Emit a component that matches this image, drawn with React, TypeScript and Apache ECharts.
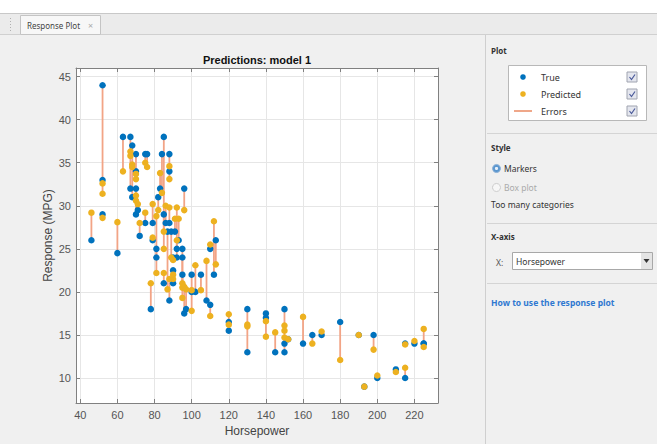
import React, { useEffect, useRef } from 'react';
import * as echarts from 'echarts';

const horsepower = [
  46, 52, 52, 52, 60, 63, 67, 67, 68, 68, 70, 70, 70, 70, 71, 72, 75, 76, 75, 78,
  79, 79, 81, 81, 82, 83, 84, 85, 85, 85, 86, 87, 88, 88, 88, 88, 89, 90, 90, 90,
  91, 92, 92, 93, 95, 95, 95, 96, 96, 97, 100, 100, 102, 105, 108, 110, 110, 112, 113, 120,
  120, 130, 130, 140, 140, 145, 150, 150, 150, 152, 160, 165, 170, 180, 190, 193, 198, 200, 210, 215,
  215, 220, 225, 225,
];
const trueResponse = [
  26, 44, 33, 29, 24.5, 38, 38, 32, 37, 31, 36, 34, 32, 29, 29.5, 26.5, 36, 36, 28, 18,
  28, 26, 25, 24, 31, 32, 36, 38, 29, 21, 28, 27, 36, 34, 19, 28, 27, 22.5, 21, 24,
  27, 25, 24, 26, 25, 22, 24, 32, 17.5, 18, 22, 20, 20, 22, 19, 18.5, 25, 22, 26, 16.5,
  15.5, 18, 13, 17.5, 17, 13, 18, 13, 14, 14.5, 14, 15, 15, 16.5, 15, 9, 15, 10, 11, 10,
  14, 14, 14, 14,
];
const predictedResponse = [
  29.2, 31.4, 32.6, 28.6, 28.1, 34, 36.3, 35.8, 34.8, 34.5, 33.7, 33.1, 31.2, 30.6, 30.2, 28, 35, 34.5, 29.2, 21,
  30.2, 26.3, 22.2, 28.8, 29.5, 33.8, 31.5, 25, 27, 22.2, 30, 20.3, 34.6, 33.1, 21.5, 29.8, 24, 21.5, 22, 23.7,
  28.5, 29.8, 26, 28.5, 20.5, 19.3, 21, 29.5, 20.6, 20.3, 17.8, 20.2, 23.1, 20.2, 23.6, 17.2, 25.5, 28.2, 23.2, 17.4,
  16.2, 16, 16.2, 16.6, 14.8, 15.3, 16.1, 15.5, 14.7, 14.5, 17.1, 14, 15.4, 12.1, 15, 9, 13.3, 10.3, 10.7, 11.2,
  13.9, 14.3, 15.7, 13.6,
];

const X_MIN = 37.7;
const X_MAX = 232.7;
const Y_MIN = 7.1;
const Y_MAX = 46;

const PANEL_FONT = '"Noto Sans", "DejaVu Sans", sans-serif';
const PLOT_FONT = '"Liberation Sans", Arial, sans-serif';

function checkbox(x: number, y: number) {
  return [
    { type: 'rect', shape: { x, y, width: 10, height: 10 }, style: { fill: '#e4e6ee', stroke: '#a0a4b0', lineWidth: 1 } },
    {
      type: 'polyline',
      shape: { points: [[x + 2.5, y + 5], [x + 4.5, y + 7.5], [x + 8, y + 2.5]] },
      style: { stroke: '#4a5a9a', lineWidth: 1.2, fill: 'none' },
    },
  ];
}

function txt(x: number, y: number, text: string, opts: any = {}) {
  return {
    type: 'text',
    x,
    y,
    style: {
      text,
      fill: opts.fill || '#333',
      font: `${opts.bold ? 'bold ' : ''}${opts.size || 9}px ${opts.family || PANEL_FONT}`,
      align: opts.align || 'left',
      verticalAlign: 'middle',
    },
  };
}

export default function App() {
  const ref = useRef<HTMLDivElement>(null);
  useEffect(() => {
    const chart = echarts.init(ref.current!, null, { renderer: 'svg' });
    const axisColor = '#808080';
    const errorData = horsepower.map((h, i) => [h, trueResponse[i], predictedResponse[i]]);
    const graphics: any[] = [
      { type: 'rect', z: -10, shape: { x: 0, y: 0, width: 657, height: 13 }, style: { fill: '#ffffff' } },
      { type: 'rect', z: -10, shape: { x: 0, y: 13, width: 657, height: 22 }, style: { fill: '#ebebeb' } },
      { type: 'line', shape: { x1: 0, y1: 13.5, x2: 657, y2: 13.5 }, style: { stroke: '#c8c8c8', lineWidth: 1 } },
      { type: 'line', shape: { x1: 0, y1: 34.5, x2: 657, y2: 34.5 }, style: { stroke: '#d0d0d0', lineWidth: 1 } },
      { type: 'rect', shape: { x: 20.5, y: 15.5, width: 80, height: 19 }, style: { fill: '#f7f7f7', stroke: '#c4c4c4', lineWidth: 1 } },
      txt(27, 25, 'Response Plot', { size: 8, fill: '#444' }),
      txt(88, 25, '×', { size: 9, fill: '#aaa' }),
      { type: 'line', shape: { x1: 10.5, y1: 18, x2: 10.5, y2: 31 }, style: { stroke: '#b0b0b0', lineWidth: 1, lineDash: [1, 2] } },
      // right panel
      { type: 'line', shape: { x1: 485.5, y1: 35, x2: 485.5, y2: 444 }, style: { stroke: '#cfcfcf', lineWidth: 1 } },
      txt(491, 50, 'Plot', { bold: true, size: 8 }),
      { type: 'rect', shape: { x: 508.5, y: 65.5, width: 138, height: 55 }, style: { fill: '#ffffff', stroke: '#b8b8b8', lineWidth: 1 } },
      { type: 'circle', shape: { cx: 523, cy: 77, r: 2.8 }, style: { fill: '#0072BD' } },
      txt(541, 77, 'True'),
      { type: 'circle', shape: { cx: 523, cy: 94, r: 2.8 }, style: { fill: '#EDB120' } },
      txt(541, 94, 'Predicted'),
      { type: 'line', shape: { x1: 514, y1: 111, x2: 532, y2: 111 }, style: { stroke: '#ea8a62', lineWidth: 1.5 } },
      txt(541, 111, 'Errors'),
      ...checkbox(627, 72),
      ...checkbox(627, 89),
      ...checkbox(627, 106),
      { type: 'line', shape: { x1: 487, y1: 133.5, x2: 657, y2: 133.5 }, style: { stroke: '#d4d4d4', lineWidth: 1 } },
      txt(491, 147, 'Style', { bold: true, size: 8 }),
      { type: 'circle', shape: { cx: 496.5, cy: 168.5, r: 4 }, style: { fill: '#5b97cf', stroke: '#8fb2d8', lineWidth: 1 } },
      { type: 'circle', shape: { cx: 496.5, cy: 168.5, r: 1.6 }, style: { fill: '#e8f0fa' } },
      txt(504, 168, 'Markers', { size: 8.5 }),
      { type: 'circle', shape: { cx: 496.5, cy: 187.5, r: 4 }, style: { fill: '#f7f7f7', stroke: '#cccccc', lineWidth: 1 } },
      txt(504, 187, 'Box plot', { size: 8.5, fill: '#aaaaaa' }),
      txt(491, 204, 'Too many categories', { size: 8.5 }),
      { type: 'line', shape: { x1: 487, y1: 223.5, x2: 657, y2: 223.5 }, style: { stroke: '#d4d4d4', lineWidth: 1 } },
      txt(491, 236, 'X-axis', { bold: true, size: 8 }),
      txt(496, 262, 'X:', { size: 8.5, fill: '#555' }),
      { type: 'rect', shape: { x: 512.5, y: 252.5, width: 140, height: 17 }, style: { fill: '#ffffff', stroke: '#a8a8a8', lineWidth: 1 } },
      txt(516, 261, 'Horsepower', { size: 8.5, fill: '#333' }),
      { type: 'rect', shape: { x: 641, y: 253, width: 11, height: 16 }, style: { fill: '#e4e4e4' } },
      { type: 'polygon', shape: { points: [[643.5, 259], [649.5, 259], [646.5, 263]] }, style: { fill: '#333' } },
      { type: 'line', shape: { x1: 487, y1: 283.5, x2: 657, y2: 283.5 }, style: { stroke: '#d4d4d4', lineWidth: 1 } },
      txt(491, 302, 'How to use the response plot', { size: 8.5, bold: true, fill: '#2f78d0' }),
      // plot title
      txt(257, 60, 'Predictions: model 1', { size: 11, bold: true, fill: '#111', align: 'center', family: PLOT_FONT }),
    ];

    const option: any = {
      animation: false,
      backgroundColor: '#f0f0f0',
      grid: {
        left: 76,
        top: 68,
        width: 362,
        height: 335,
        show: true,
        backgroundColor: '#ffffff',
        borderWidth: 0,
      },
      xAxis: [
        {
          type: 'value',
          position: 'bottom',
          min: X_MIN,
          max: X_MAX,
          splitNumber: 10,
          minInterval: 20,
          maxInterval: 20,
          axisLine: { show: true, onZero: false, lineStyle: { color: axisColor } },
          axisTick: { show: true, inside: true, length: 4, lineStyle: { color: axisColor } },
          axisLabel: {
            color: '#555',
            fontSize: 11,
            fontFamily: PLOT_FONT,
            margin: 6,
            formatter: (v: number) => (Math.abs(v % 20) < 1e-6 ? String(Math.round(v)) : ''),
          },
          splitLine: { show: true, lineStyle: { color: '#e6e6e6' } },
          name: 'Horsepower',
          nameLocation: 'middle',
          nameGap: 22,
          nameMoveOverlap: false,
          nameTextStyle: { color: '#444', fontSize: 12, fontFamily: PLOT_FONT },
        },
        {
          type: 'value',
          position: 'top',
          min: X_MIN,
          max: X_MAX,
          splitNumber: 10,
          minInterval: 20,
          maxInterval: 20,
          axisLine: { show: true, onZero: false, lineStyle: { color: axisColor } },
          axisTick: { show: true, inside: true, length: 4, lineStyle: { color: axisColor } },
          axisLabel: { show: false },
          splitLine: { show: false },
        },
      ],
      yAxis: [
        {
          type: 'value',
          position: 'left',
          min: Y_MIN,
          max: Y_MAX,
          splitNumber: 8,
          minInterval: 5,
          maxInterval: 5,
          axisLine: { show: true, onZero: false, lineStyle: { color: axisColor } },
          axisTick: { show: true, inside: true, length: 4, lineStyle: { color: axisColor } },
          axisLabel: {
            color: '#555',
            fontSize: 11,
            fontFamily: PLOT_FONT,
            margin: 5,
            formatter: (v: number) => (Math.abs(v % 5) < 1e-6 ? String(Math.round(v)) : ''),
          },
          splitLine: { show: true, lineStyle: { color: '#e6e6e6' } },
          name: 'Response (MPG)',
          nameLocation: 'middle',
          nameGap: 22,
          nameMoveOverlap: false,
          nameTextStyle: { color: '#444', fontSize: 12, fontFamily: PLOT_FONT },
        },
        {
          type: 'value',
          position: 'right',
          min: Y_MIN,
          max: Y_MAX,
          splitNumber: 8,
          minInterval: 5,
          maxInterval: 5,
          axisLine: { show: true, onZero: false, lineStyle: { color: axisColor } },
          axisTick: { show: true, inside: true, length: 4, lineStyle: { color: axisColor } },
          axisLabel: { show: false },
          splitLine: { show: false },
        },
      ],
      graphic: graphics,
      series: [
        {
          type: 'custom',
          xAxisIndex: 0,
          yAxisIndex: 0,
          silent: true,
          z: 2,
          data: errorData,
          encode: { x: 0, y: [1, 2] },
          renderItem: (_params: any, api: any) => {
            const p1 = api.coord([api.value(0), api.value(1)]);
            const p2 = api.coord([api.value(0), api.value(2)]);
            return {
              type: 'line',
              shape: { x1: p1[0], y1: p1[1], x2: p2[0], y2: p2[1] },
              style: { stroke: '#f2a486', lineWidth: 1.8 },
            };
          },
        },
        {
          type: 'scatter',
          name: 'True',
          silent: true,
          z: 3,
          symbol: 'circle',
          symbolSize: 6.5,
          itemStyle: { color: '#0072BD', opacity: 1 },
          data: horsepower.map((h, i) => [h, trueResponse[i]]),
        },
        {
          type: 'scatter',
          name: 'Predicted',
          silent: true,
          z: 4,
          symbol: 'circle',
          symbolSize: 6.5,
          itemStyle: { color: '#EDB120', opacity: 1 },
          data: horsepower.map((h, i) => [h, predictedResponse[i]]),
        },
      ],
    };
    chart.setOption(option);
    return () => chart.dispose();
  }, []);
  return <div ref={ref} style={{ position: 'absolute', left: 0, top: 0, width: 657, height: 444 }} />;
}
